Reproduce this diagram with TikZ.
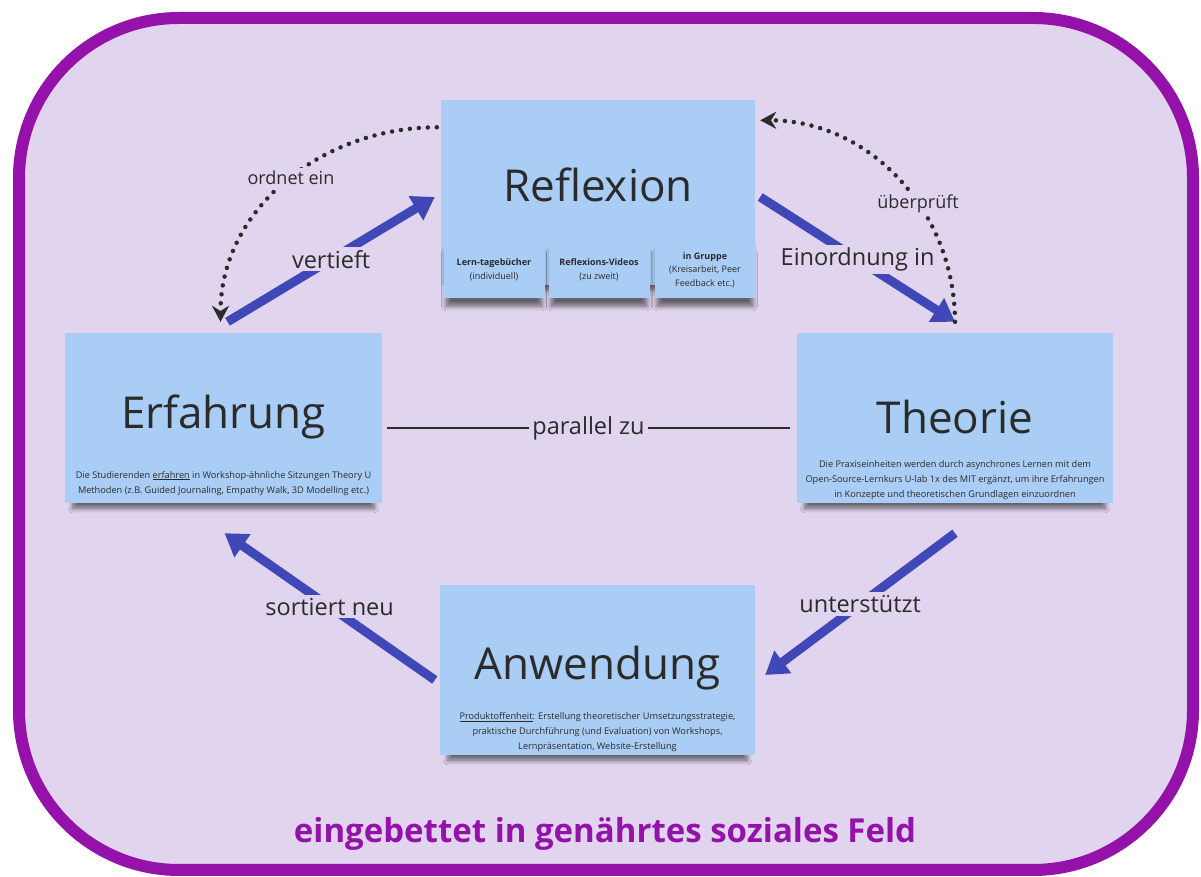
\documentclass[tikz,border=0pt]{standalone}
\usepackage{fontspec}
\setmainfont{Open Sans}
\usetikzlibrary{arrows.meta,positioning,shadows.blur}

\definecolor{feldbg}{HTML}{E0D4EE}
\definecolor{feldrand}{HTML}{9412AA}
\definecolor{zettel}{HTML}{A9CDF5}
\definecolor{pfeilblau}{HTML}{3F48B6}
\definecolor{schrift}{HTML}{2B2B2B}

\tikzset{
  zettelbox/.style={fill=zettel, inner sep=0pt,
    blur shadow={shadow xshift=0pt, shadow yshift=-10pt, shadow scale=0.95,
      shadow blur radius=5pt, shadow blur steps=6, shadow opacity=55}},
  unterzettel/.style={zettelbox, minimum width=101pt, minimum height=56pt,
    align=center, font=\fontsize{9}{13.5}\selectfont},
  titel/.style={font=\fontsize{44}{50}\selectfont},
  beschreibung/.style={align=center, font=\fontsize{9.2}{15}\selectfont},
  blaupfeil/.style={pfeilblau, line width=9pt, -{Triangle[length=22pt,width=27pt]}},
  punktpfeil/.style={schrift, line width=4.5pt, line cap=round, dash pattern=on 0pt off 9pt,
    -{Stealth[length=16pt,width=17pt]}},
  pfeiltext/.style={fill=feldbg, inner sep=3pt, font=\fontsize{23.5}{28}\selectfont},
  kleintext/.style={fill=feldbg, inner sep=3pt, font=\fontsize{18}{21}\selectfont}
}

\begin{document}
\begin{tikzpicture}[x=1pt, y=1pt, every node/.append style={text=schrift}]

\useasboundingbox (0,0) rectangle (1201,877);

% Feld
\draw[feldrand, line width=12pt, fill=feldbg, rounded corners=160pt] (19,7) rectangle (1193,859);

% Zettel
\node[zettelbox, minimum width=314pt, minimum height=185pt] (refl) at (598,684) {};
\node[zettelbox, minimum width=317pt, minimum height=170pt] (erf) at (223.5,459) {};
\node[zettelbox, minimum width=316pt, minimum height=170pt] (theo) at (955,459) {};
\node[zettelbox, minimum width=315pt, minimum height=170pt] (anw) at (597.5,207) {};

\node[titel] (refltitel) at ([yshift=8pt]refl.center) {Reflexion};
\node[titel] (erftitel) at ([yshift=1pt]erf.center) {Erfahrung};
\node[titel] (theotitel) at ([yshift=1pt]theo.center) {Theorie};
\node[titel] (anwtitel) at ([yshift=2pt]anw.center) {Anwendung};

\node[unterzettel] (tagebuch) at (494,607) {\textbf{Lern-tagebücher}\\(individuell)};
\node[unterzettel] (videos) at (599,607) {\textbf{Reflexions-Videos}\\(zu zweit)};
\node[unterzettel] (gruppe) at (705,607) {\textbf{in Gruppe}\\(Kreisarbeit, Peer\\Feedback etc.)};

\node[beschreibung] (erftext) at ([yshift=20pt]erf.south)
  {Die Studierenden \underline{erfahren} in Workshop-ähnliche Sitzungen Theory U\\
   Methoden (z.B. Guided Journaling, Empathy Walk, 3D Modelling etc.)};
\node[beschreibung] (theotext) at ([yshift=23pt]theo.south)
  {Die Praxiseinheiten werden durch asynchrones Lernen mit dem\\
   Open-Source-Lernkurs U-lab 1x des MIT ergänzt, um ihre Erfahrungen\\
   in Konzepte und theoretischen Grundlagen einzuordnen};
\node[beschreibung] (anwtext) at ([yshift=23pt]anw.south)
  {\underline{Produktoffenheit}: Erstellung theoretischer Umsetzungsstrategie,\\
   praktische Durchführung (und Evaluation) von Workshops,\\
   Lernpräsentation, Website-Erstellung};

% Kreislauf
\draw[blaupfeil] ([xshift=4pt,yshift=11pt]erf.north) -- node[pfeiltext] {vertieft} ([xshift=-6pt,yshift=-4pt]refl.west);
\draw[blaupfeil] ([xshift=5pt,yshift=-4pt]refl.east) -- node[pfeiltext] {Einordnung in} ([yshift=11pt]theo.north);
\draw[blaupfeil] ([yshift=-30pt]theo.south) -- node[pfeiltext] {unterstützt} ([xshift=10pt,yshift=-5pt]anw.east);
\draw[blaupfeil] ([xshift=-5pt,yshift=-10pt]anw.west) -- node[pfeiltext] {sortiert neu} ([xshift=1pt,yshift=-30pt]erf.south);

% gestrichelte Bögen
\draw[punktpfeil] ([xshift=-4pt,yshift=-27pt]refl.north west) to[out=180,in=90]
  node[kleintext, pos=0.48] {ordnet ein} ([xshift=-3pt,yshift=11pt]erf.north);
\draw[punktpfeil] ([yshift=11pt]theo.north) to[out=90,in=0]
  node[kleintext, pos=0.4] {überprüft} ([xshift=5pt,yshift=-20pt]refl.north east);

% parallel
\draw[schrift, line width=2pt] ([xshift=5pt,yshift=-10pt]erf.east) -- node[pfeiltext] {parallel zu} ([xshift=-7pt,yshift=-10pt]theo.west);

\node[font=\bfseries\fontsize{33}{38}\selectfont, text=feldrand] (feld) at (605,43) {eingebettet in genährtes soziales Feld};

\end{tikzpicture}
\end{document}
